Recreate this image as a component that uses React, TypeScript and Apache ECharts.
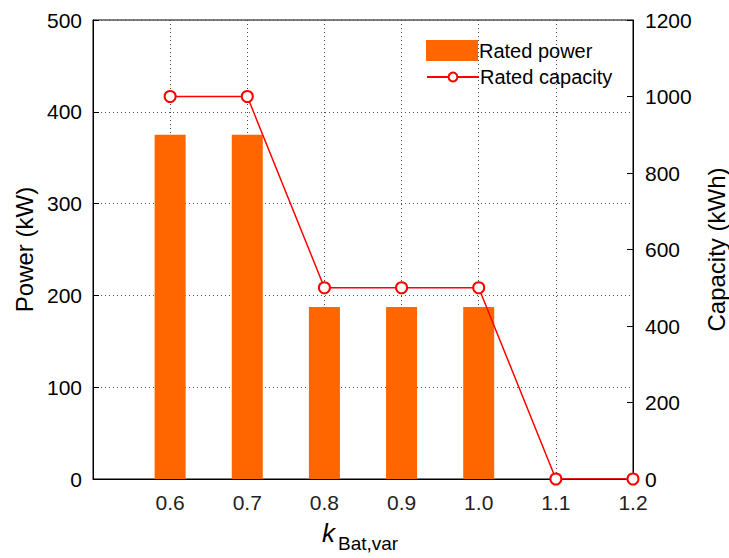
import React, { useEffect, useRef } from "react";
import * as echarts from "echarts";

const kValues = [0.6, 0.7, 0.8, 0.9, 1.0, 1.1, 1.2];
const ratedPower = [375, 375, 187.5, 187.5, 187.5];
const ratedCapacity = [1000, 1000, 500, 500, 500, 0, 0];

const FONT = "'Liberation Sans', Arial, sans-serif";

export default function App() {
  const ref = useRef<HTMLDivElement>(null);
  useEffect(() => {
    const chart = echarts.init(ref.current!, null, { renderer: "svg" });
    const barData = ratedPower.map((v, i) => [kValues[i], v]);
    const lineData = ratedCapacity.map((v, i) => [kValues[i], v]);
    chart.setOption({
      animation: false,
      backgroundColor: "#fff",
      textStyle: { fontFamily: FONT },
      grid: {
        left: 93,
        right: 96,
        top: 20,
        bottom: 79,
        outerBoundsMode: "none",
        containLabel: false,
        show: true,
        borderColor: "#000",
        borderWidth: 1,
        backgroundColor: "transparent",
      },
      legend: [
        {
          orient: "vertical",
          left: 426,
          top: 40,
          padding: 0,
          itemWidth: 52,
          itemHeight: 21,
          textStyle: { fontSize: 20, color: "#000", fontFamily: FONT, padding: [0, 0, 0, -4] },
          data: [{ name: "Rated power", icon: "rect" }],
        },
        {
          orient: "vertical",
          left: 426,
          top: 67,
          padding: 0,
          itemWidth: 52,
          itemHeight: 11,
          textStyle: { fontSize: 20, color: "#000", fontFamily: FONT, padding: [0, 0, 0, -4] },
          data: [{ name: "Rated capacity" }],
        },
      ],
      xAxis: {
        type: "value",
        min: 0.5,
        max: 1.2,
        interval: 0.1,
        axisLine: { show: true, lineStyle: { color: "#000" } },
        axisTick: { show: true, inside: true, length: 6, lineStyle: { color: "#000" } },
        axisLabel: {
          fontSize: 21,
          color: "#222",
          margin: 13,
          fontFamily: FONT,
          showMinLabel: false,
          formatter: (v: number) => (Math.abs(v - 0.5) < 1e-6 ? "" : v.toFixed(1)),
        },
        splitLine: { show: true, lineStyle: { color: "#444", type: [1, 3], width: 1 } },
      },
      yAxis: [
        {
          type: "value",
          min: 0,
          max: 500,
          interval: 100,
          name: "Power (kW)",
          nameLocation: "middle",
          nameGap: 55,
          nameTextStyle: { fontSize: 24, color: "#000", fontFamily: FONT },
          axisLine: { show: true, lineStyle: { color: "#000" } },
          axisTick: { show: true, inside: true, length: 6, lineStyle: { color: "#000" } },
          axisLabel: { fontSize: 21, color: "#000", margin: 11, fontFamily: FONT },
          splitLine: { show: true, lineStyle: { color: "#555", type: [1, 3], width: 1 } },
        },
        {
          type: "value",
          min: 0,
          max: 1200,
          interval: 200,
          position: "right",
          name: "Capacity (kWh)",
          nameLocation: "middle",
          nameGap: 71,
          nameRotate: 90,
          nameTextStyle: { fontSize: 24, color: "#000", fontFamily: FONT },
          axisLine: { show: true, lineStyle: { color: "#000" } },
          axisTick: { show: true, inside: true, length: 6, lineStyle: { color: "#000" } },
          axisLabel: {
            fontSize: 21,
            color: "#000",
            margin: 12,
            fontFamily: FONT,
            formatter: (v: number) => String(v),
          },
          splitLine: { show: false },
        },
      ],
      series: [
        {
          name: "Rated power",
          type: "bar",
          yAxisIndex: 0,
          barWidth: 31,
          itemStyle: { color: "#FF6600" },
          data: barData,
          z: 2,
        },
        {
          name: "Rated capacity",
          type: "line",
          yAxisIndex: 1,
          symbol: "emptyCircle",
          symbolSize: 11,
          lineStyle: { color: "#FF0000", width: 1.5 },
          itemStyle: { color: "#FF0000", borderColor: "#FF0000", borderWidth: 1.5 },
          data: lineData,
          z: 3,
        },
      ],
      graphic: [
        {
          type: "text",
          left: 322,
          top: 520,
          style: { text: "k", fontSize: 26, fontStyle: "italic", fill: "#000", fontFamily: FONT },
        },
        {
          type: "text",
          left: 338,
          top: 534,
          style: { text: "Bat,var", fontSize: 19, fill: "#000", fontFamily: FONT },
        },
      ],
    });
    return () => chart.dispose();
  }, []);
  return <div ref={ref} style={{ width: 729, height: 558, position: "absolute", left: 0, top: 0 }} />;
}
